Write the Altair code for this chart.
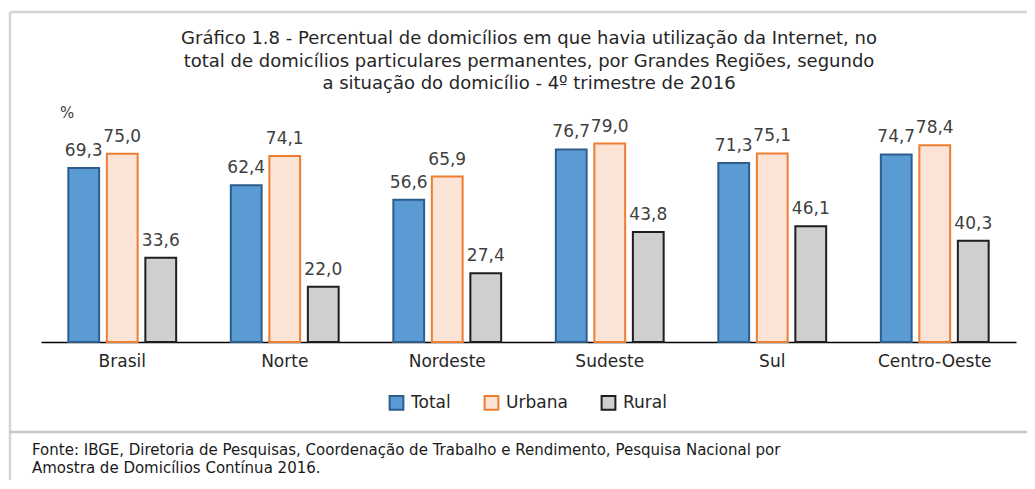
import altair as alt
import pandas as pd

regioes = ["Brasil", "Norte", "Nordeste", "Sudeste", "Sul", "Centro-Oeste"]
situacoes = ["Total", "Urbana", "Rural"]
total = [69.3, 62.4, 56.6, 76.7, 71.3, 74.7]
urbana = [75.0, 74.1, 65.9, 79.0, 75.1, 78.4]
rural = [33.6, 22.0, 27.4, 43.8, 46.1, 40.3]
fills = ["#5b9bd5", "#fbe4d5", "#d0cece"]
strokes = ["#2e5d8c", "#ed7d31", "#1e1e1e"]

titulo = [
    "Gráfico 1.8 - Percentual de domicílios em que havia utilização da Internet, no",
    "total de domicílios particulares permanentes, por Grandes Regiões, segundo",
    "a situação do domicílio - 4º trimestre de 2016",
]
fonte = [
    "Fonte: IBGE, Diretoria de Pesquisas, Coordenação de Trabalho e Rendimento, Pesquisa Nacional por",
    "Amostra de Domicílios Contínua 2016.",
]

rows = []
for i, r in enumerate(regioes):
    for s, vals in zip(situacoes, [total, urbana, rural]):
        rows.append({"Região": r, "Situação": s, "Valor": vals[i],
                     "Rótulo": f"{vals[i]:.1f}".replace(".", ",")})
df = pd.DataFrame(rows)

x = alt.X("Região:N", sort=regioes,
          scale=alt.Scale(paddingInner=0.289, paddingOuter=0.1445),
          axis=alt.Axis(title=None, labelAngle=0, ticks=False, domainColor="#000000",
                        domainWidth=1.5, labelFont="DejaVu Sans", labelFontSize=17,
                        labelColor="#262626", labelPadding=11, grid=False))
xo = alt.XOffset("Situação:N", sort=situacoes,
                 scale=alt.Scale(paddingInner=0.2, paddingOuter=0.1))
y = alt.Y("Valor:Q", scale=alt.Scale(domain=[0, 90], nice=False), axis=None)

legend = alt.Legend(title=None, orient="none", legendX=347, legendY=278,
                    direction="horizontal", symbolType="square", symbolSize=190,
                    symbolStrokeWidth=2, labelFont="DejaVu Sans", labelFontSize=17,
                    labelColor="#262626", columnPadding=29, labelOffset=6, padding=0)
fill = alt.Fill("Situação:N", sort=situacoes,
                scale=alt.Scale(domain=situacoes, range=fills), legend=legend)
stroke = alt.Stroke("Situação:N", sort=situacoes,
                    scale=alt.Scale(domain=situacoes, range=strokes), legend=legend)

base = alt.Chart(df)
bars = base.mark_bar(strokeWidth=2).encode(x=x, xOffset=xo, y=y, fill=fill, stroke=stroke)
labels = base.mark_text(dy=-8, baseline="bottom", font="DejaVu Sans", fontSize=17,
                        color="#404040").encode(x=x, xOffset=xo, y=y, text="Rótulo:N")

one = pd.DataFrame({"k": [0]})
frame_color = "#d4d4d4"
left_border = alt.Chart(one).mark_rule(color=frame_color, strokeWidth=2.5).encode(
    x=alt.value(-31), y=alt.value(-104), y2=alt.value(370))
top_border = alt.Chart(one).mark_rule(color=frame_color, strokeWidth=2.5).encode(
    x=alt.value(-31), x2=alt.value(990), y=alt.value(-104))
sep = alt.Chart(one).mark_rule(color="#c8c8c8", strokeWidth=2.5).encode(
    x=alt.value(-31), x2=alt.value(990), y=alt.value(316))

title_txt = alt.Chart(one).mark_text(
    lineBreak="\n", lineHeight=22.5, font="DejaVu Sans", fontSize=18, color="#262626",
    align="center", baseline="middle").encode(
    x=alt.value(488), y=alt.value(-77), text=alt.value("\n".join(titulo)))
pct = alt.Chart(one).mark_text(font="DejaVu Sans", fontSize=15, color="#404040",
                               align="center", baseline="middle").encode(
    x=alt.value(26), y=alt.value(-3), text=alt.value("%"))
fonte_txt = alt.Chart(one).mark_text(
    lineBreak="\n", lineHeight=18.5, font="DejaVu Sans", fontSize=15, color="#1a1a1a",
    align="left", baseline="middle").encode(
    x=alt.value(-9), y=alt.value(333.5), text=alt.value("\n".join(fonte)))

chart = alt.layer(left_border, top_border, sep, bars, labels, title_txt, pct, fonte_txt).properties(
    width=975, height=226,
    padding={"left": 33, "top": 108, "right": 11, "bottom": 138},
    autosize=alt.AutoSizeParams(type="none"),
    background="white",
).configure_view(stroke=None)

chart.save("out.html", embed_options={"renderer": "svg", "actions": False})
